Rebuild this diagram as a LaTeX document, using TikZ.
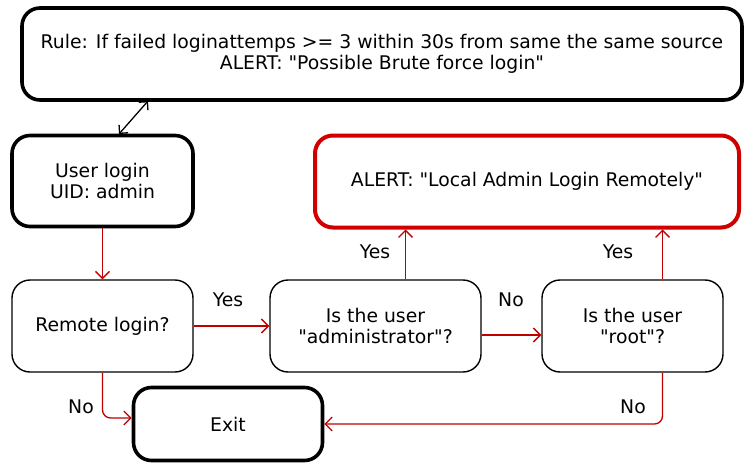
\documentclass[tikz,border=0pt]{standalone}
\usepackage{fontspec}
\setmainfont{DejaVu Sans}[Ligatures=TeXOff]
\usetikzlibrary{arrows.meta}
\definecolor{arr}{HTML}{C00000}
\definecolor{alertred}{HTML}{D00000}
\begin{document}
\begin{tikzpicture}[x=1pt,y=-1pt,
  box/.style={draw=black,rectangle,rounded corners=18pt,align=center,inner sep=0pt,
    font=\fontsize{18.8}{21}\selectfont},
  thickbox/.style={box,line width=3.6pt},
  thinbox/.style={box,line width=1.4pt},
  redbox/.style={box,draw=alertred,line width=4pt},
  rarrow/.style={draw=arr,line width=1.3pt,-{Straight Barb[length=7pt,width=14pt]}},
  lbl/.style={font=\fontsize{18.8}{21}\selectfont,inner sep=0pt}]
\useasboundingbox (0,0) rectangle (745,463);
\node[thickbox,minimum width=720pt,minimum height=92pt] (rule) at (382,54)
  {Rule: If failed loginattemps >= 3 within 30s from same the same source\\ALERT: "Possible Brute force login"};
\node[thickbox,minimum width=181pt,minimum height=91pt] (user) at (102.5,181) {User login\\UID: admin};
\node[thinbox,minimum width=181pt,minimum height=92pt] (remote) at (102.5,326) {Remote login?};
\node[thinbox,minimum width=211pt,minimum height=92pt] (admin) at (375.5,326) {Is the user\\"administrator"?};
\node[thinbox,minimum width=181pt,minimum height=92pt] (root) at (632.5,326) {Is the user\\"root"?};
\node[redbox,minimum width=424pt,minimum height=92pt] (alert) at (527,181.5) {ALERT: "Local Admin Login Remotely"};
\node[thickbox,minimum width=189pt,minimum height=73pt] (exit) at (228,424) {Exit};
\coordinate (ua) at (119,134);
\coordinate (ub) at (148,101);
\draw[line width=1.3pt,{Straight Barb[length=6pt,width=12pt]}-{Straight Barb[length=6pt,width=12pt]}] (ua) -- (ub);
\draw[rarrow] (user) -- (remote);
\draw[rarrow] (remote.east) -- (admin.west);
\draw[rarrow] ([yshift=-9pt]admin.east) -- ([yshift=-9pt]root.west);
\draw[rarrow] ([xshift=30pt]admin.north) -- ([xshift=30pt]admin.north |- alert.south);
\draw[rarrow] ([xshift=30pt]root.north) -- ([xshift=30pt]root.north |- alert.south);
\draw[rarrow,rounded corners=8pt] (remote.south) |- ([yshift=6pt]exit.west);
\draw[rarrow,rounded corners=8pt] ([xshift=30pt]root.south) |- (exit.east);
\node[lbl] (l1) at (228,300) {Yes};
\node[lbl] (l2) at (375,252) {Yes};
\node[lbl] (l3) at (618,252) {Yes};
\node[lbl] (l4) at (511,300) {No};
\node[lbl] (l5) at (81,407) {No};
\node[lbl] (l6) at (633,407) {No};
\end{tikzpicture}
\end{document}
